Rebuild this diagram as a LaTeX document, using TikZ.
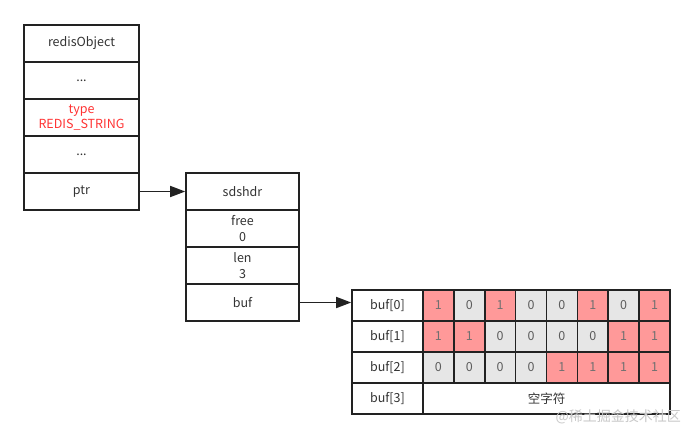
\documentclass[tikz,border=0pt]{standalone}
\usepackage{fontspec}
\setmainfont{Noto Sans CJK SC}
\usetikzlibrary{arrows.meta}
\definecolor{linec}{HTML}{222222}
\definecolor{txt}{HTML}{333333}
\definecolor{redt}{HTML}{FF3333}
\definecolor{pinkc}{HTML}{FF9999}
\definecolor{grayc}{HTML}{E6E6E6}
\definecolor{wm}{HTML}{C8C8C8}
\tikzset{
  cellbox/.style={draw=linec, line width=1.6pt, inner sep=0pt, align=center, text=txt,
    font=\fontsize{12.5}{15.5}\selectfont},
  objbox/.style={cellbox, minimum width=115pt, minimum height=37pt},
  sdsbox/.style={cellbox, minimum width=113pt, minimum height=37pt},
  lblbox/.style={cellbox, minimum width=71pt, minimum height=31pt},
  bitbox/.style={cellbox, minimum width=30.875pt, minimum height=31pt},
  one/.style={bitbox, fill=pinkc, text=txt!70},
  zero/.style={bitbox, fill=grayc, text=txt!80},
  arr/.style={draw=linec, line width=1.6pt, -{Triangle[length=15pt,width=11pt]}}
}
\begin{document}
\begin{tikzpicture}[x=1pt,y=-1pt]
\useasboundingbox[fill=white] (0,0) rectangle (696,439);
% redisObject
\node[objbox] (o1) at (81.5,43.5) {redisObject};
\node[objbox] (o2) at (81.5,80.5) {...};
\node[objbox, text=redt] (o3) at (81.5,117.5) {type\\REDIS\_STRING};
\node[objbox] (o4) at (81.5,154.5) {...};
\node[objbox] (o5) at (81.5,191.5) {ptr};
% sdshdr
\node[sdsbox] (s1) at (242.5,191.5) {sdshdr};
\node[sdsbox] (s2) at (242.5,228.5) {free\\0};
\node[sdsbox] (s3) at (242.5,265.5) {len\\3};
\node[sdsbox] (s4) at (242.5,302.5) {buf};
% table labels
\node[lblbox] (b0) at (387.5,305.5) {buf[0]};
\node[lblbox] (b1) at (387.5,336.5) {buf[1]};
\node[lblbox] (b2) at (387.5,367.5) {buf[2]};
\node[lblbox] (b3) at (387.5,398.5) {buf[3]};
% bits
\foreach \r/\yy/\bits in {0/305.5/{1,0,1,0,0,1,0,1},1/336.5/{1,1,0,0,0,0,1,1},2/367.5/{0,0,0,0,1,1,1,1}}{
  \foreach \b [count=\i from 0] in \bits {
    \pgfmathsetmacro{\xx}{423+30.875*\i+15.4375}
    \ifnum\b=1
      \node[one] (c\r\i) at (\xx,\yy) {1};
    \else
      \node[zero] (c\r\i) at (\xx,\yy) {0};
    \fi
  }
}
\node[cellbox, minimum width=247pt, minimum height=31pt] (nul) at (546.5,398.5) {空字符};
% arrows
\draw[arr] (o5.east) -- (s1.west);
\draw[arr] (s4.east) -- (s4.east -| b0.west);
% watermark
\node[font=\fontsize{14}{16}\selectfont, text=wm, anchor=east, inner sep=0pt] (wmk) at (681,417) {@稀土掘金技术社区};
\end{tikzpicture}
\end{document}
